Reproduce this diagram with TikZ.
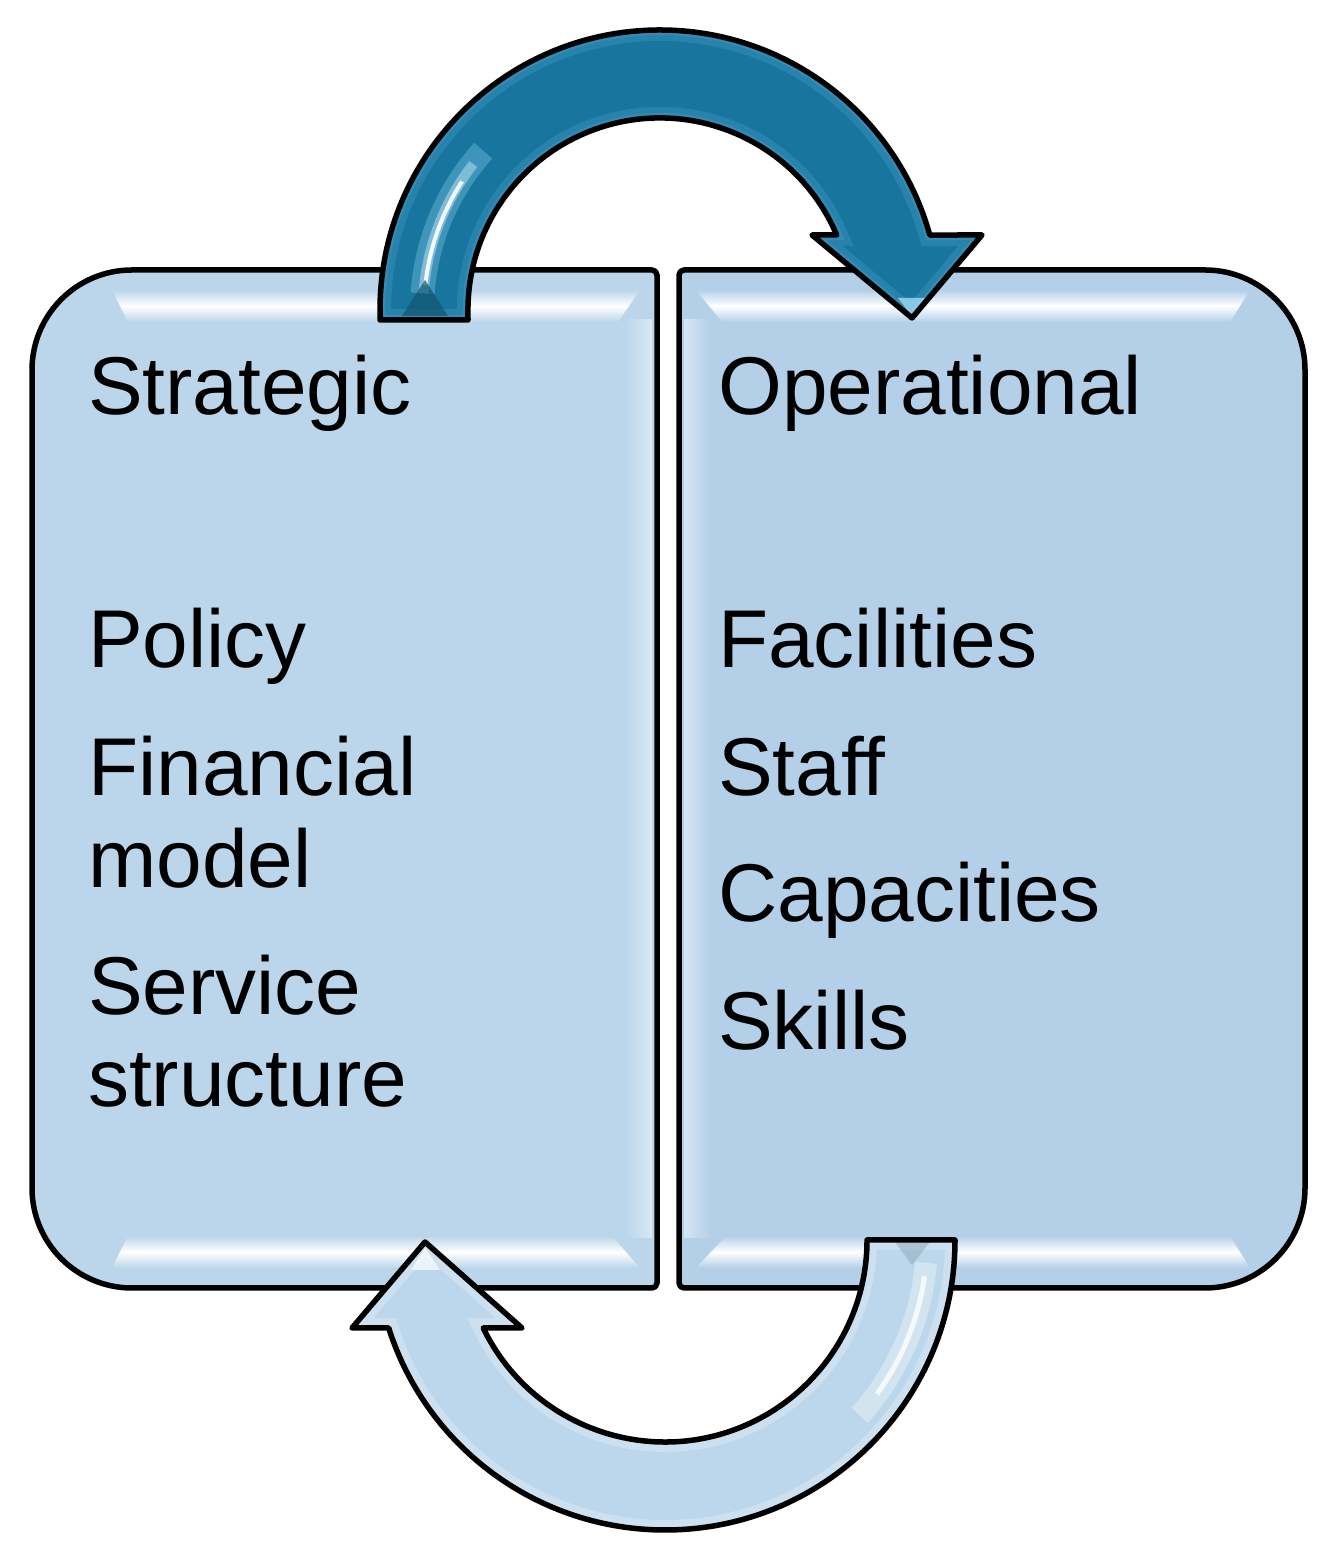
\documentclass[tikz,border=0pt]{standalone}
\usepackage{fontspec}
\setmainfont{Liberation Sans}
\definecolor{boxL}{RGB}{187,214,234}
\definecolor{boxR}{RGB}{180,208,232}
\definecolor{teal}{RGB}{24,118,158}
\definecolor{tealLight}{RGB}{70,158,200}
\definecolor{botArrow}{RGB}{188,214,235}
\begin{document}
\begin{tikzpicture}[x=1pt,y=1pt,
  boxline/.style={draw=black, line width=5.5pt, line join=round},
  arrowline/.style={draw=black, line width=5.5pt, line join=round},
  label/.style={anchor=base west, inner sep=0pt, font=\fontsize{82}{94}\selectfont, text=black},
  glossL/.style={top color=boxL, bottom color=boxL, middle color=white},
  glossR/.style={top color=boxR, bottom color=boxR, middle color=white}]
\useasboundingbox (0,0) rectangle (1341,1560);
% ---------- boxes ----------
\coordinate (leftbox) at (344,781);
\coordinate (rightbox) at (992,781);
\fill[boxL] (344,272) [rounded corners=100] -- (32,272) -- (32,1290) -- (344,1290) [rounded corners=5] -- (657,1290) -- (657,272) -- cycle;
\fill[boxR] (992,272) [rounded corners=5] -- (679,272) -- (679,1290) -- (992,1290) [rounded corners=100] -- (1305,1290) -- (1305,272) -- cycle;
% gloss bands
\shade[glossL] (128,1238) -- (618,1238) -- (640,1270) -- (112,1270) -- cycle;
\shade[glossL] (128,324) -- (612,324) -- (640,292) -- (112,292) -- cycle;
\shade[glossR] (722,1238) -- (1230,1238) -- (1250,1270) -- (696,1270) -- cycle;
\shade[glossR] (726,324) -- (1230,324) -- (1250,292) -- (696,292) -- cycle;
\shade[left color=boxL, right color=white!45!boxL] (626,322) rectangle (652,1240);
\shade[left color=white!45!boxR, right color=boxR] (684,322) rectangle (710,1240);
\draw[boxline] (344,272) [rounded corners=100] -- (32,272) -- (32,1290) -- (344,1290) [rounded corners=5] -- (657,1290) -- (657,272) -- cycle;
\draw[boxline] (992,272) [rounded corners=5] -- (679,272) -- (679,1290) -- (992,1290) [rounded corners=100] -- (1305,1290) -- (1305,272) -- cycle;
% ---------- top arrow ----------
\begin{scope}
\clip (380,1240) -- (380,1250) arc[start angle=180, end angle=15.53, radius=280] -- (982,1325) -- (912,1242) -- (812,1325) -- (836.7,1325) arc[start angle=22.99, end angle=180, radius=192] -- (468,1240) -- cycle;
\fill[teal] (0,1000) rectangle (1341,1560);
\draw[tealLight, line width=22pt, opacity=0.35] (380,1240) -- (380,1250) arc[start angle=180, end angle=15.53, radius=280] -- (982,1325) -- (912,1242) -- (812,1325) -- (836.7,1325) arc[start angle=22.99, end angle=180, radius=192] -- (468,1240) -- cycle;
\draw[tealLight, line width=10pt, opacity=0.35] (380,1240) -- (380,1250) arc[start angle=180, end angle=15.53, radius=280] -- (982,1325) -- (912,1242) -- (812,1325) -- (836.7,1325) arc[start angle=22.99, end angle=180, radius=192] -- (468,1240) -- cycle;
\draw[cyan!40!white, line width=24pt, opacity=0.3] (660,1250) ++(176:238) arc[start angle=176, end angle=138, radius=238];
\draw[cyan!20!white, line width=10pt, opacity=0.45] (660,1250) ++(176:237) arc[start angle=176, end angle=142, radius=237];
\draw[white, line width=4pt, opacity=0.9] (660,1250) ++(174:236) arc[start angle=174, end angle=147, radius=236];
\fill[cyan!30!white, opacity=0.7] (898,1262) -- (926,1262) -- (912,1244) -- cycle;
\fill[teal!70!black, opacity=0.7] (402,1244) -- (448,1244) -- (425,1280) -- cycle;
\end{scope}
\draw[arrowline] (380,1240) -- (380,1250) arc[start angle=180, end angle=15.53, radius=280] -- (982,1325) -- (912,1242) -- (812,1325) -- (836.7,1325) arc[start angle=22.99, end angle=180, radius=192] -- (468,1240) -- cycle;
% ---------- bottom arrow ----------
\begin{scope}
\clip (955,320) arc[start angle=0, end angle=-162.34, radius=290] -- (352,232) -- (425,318) -- (522,232) -- (483.2,232) arc[start angle=-154.17, end angle=0, radius=202] -- cycle;
\fill[botArrow] (0,0) rectangle (1341,340);
\draw[white, line width=20pt, opacity=0.25] (955,320) arc[start angle=0, end angle=-162.34, radius=290] -- (352,232) -- (425,318) -- (522,232) -- (483.2,232) arc[start angle=-154.17, end angle=0, radius=202] -- cycle;
\draw[white, line width=22pt, opacity=0.35] (665,320) ++(-5:262) arc[start angle=-5, end angle=-42, radius=262];
\draw[white, line width=5pt, opacity=0.8] (665,320) ++(-8:262) arc[start angle=-8, end angle=-36, radius=262];
\fill[white, opacity=0.7] (411,290) -- (440,290) -- (425,312) -- cycle;
\fill[boxR!80!black, opacity=0.5] (895,318) -- (930,318) -- (912,295) -- cycle;
\end{scope}
\draw[arrowline] (955,320) arc[start angle=0, end angle=-162.34, radius=290] -- (352,232) -- (425,318) -- (522,232) -- (483.2,232) arc[start angle=-154.17, end angle=0, radius=202] -- cycle;
% ---------- texts ----------
\node[label] (strategic) at (88,1145) {Strategic};
\node[label] (policy) at (88,892) {Policy};
\node[label] (financial) at (88,764) {Financial};
\node[label] (model) at (88,672) {model};
\node[label] (service) at (88,545) {Service};
\node[label] (structure) at (88,453) {structure};
\node[label] (operational) at (718,1145) {Operational};
\node[label] (facilities) at (718,892) {Facilities};
\node[label] (staff) at (718,764) {Staff};
\node[label] (capacities) at (718,638) {Capacities};
\node[label] (skills) at (718,510) {Skills};
\end{tikzpicture}
\end{document}
